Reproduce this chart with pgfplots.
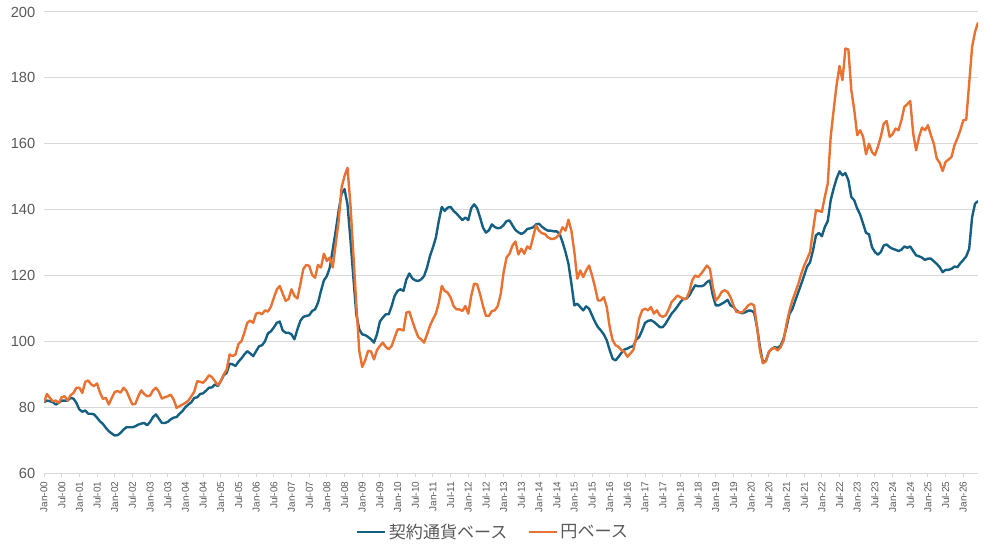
\documentclass[border=0pt]{standalone}
\usepackage{fontspec}
\setmainfont{Liberation Sans}
\newfontfamily\jp{Noto Sans CJK JP}
\usepackage{pgfplots}
\usepackage{pgfplotstable}
\pgfplotsset{compat=1.18}
\definecolor{cblue}{HTML}{156082}
\definecolor{corange}{HTML}{E97132}
\definecolor{txtgray}{HTML}{595959}
\definecolor{gridgray}{HTML}{D9D9D9}
\pgfplotstableread{
m a b
0 81.5 81.5
1 82 84
2 81.8 82.8
3 81.5 81.8
4 80.8 82
5 81.3 81.3
6 82 83
7 82 83.3
8 82 82
9 82.8 83.6
10 82.6 84.3
11 81.3 85.9
12 79.3 85.9
13 78.6 84.3
14 79 87.7
15 78 88.1
16 78 86.9
17 77.8 86.4
18 76.8 87.2
19 75.7 84.4
20 74.9 82.5
21 73.7 82.8
22 72.7 80.8
23 72 82.8
24 71.4 84.6
25 71.5 84.9
26 72.2 84.4
27 73.2 85.9
28 73.9 84.9
29 73.9 82.8
30 73.9 80.8
31 74.2 81
32 74.7 83.3
33 75 85.1
34 75.2 84
35 74.5 83.3
36 75.5 83.5
37 77 85.1
38 77.8 85.9
39 76.5 84.7
40 75.2 82.6
41 75.2 83
42 75.5 83.3
43 76.3 83.8
44 76.8 82.3
45 77 79.8
46 78 80.3
47 78.8 80.8
48 80 81.3
49 80.8 82
50 81.5 83.3
51 82.8 84.7
52 83 87.9
53 84 87.7
54 84.2 87.4
55 85 88.4
56 85.9 89.7
57 86 89.1
58 86.9 87.9
59 86.4 86.7
60 87.9 87.9
61 89.7 89.9
62 90.4 91.4
63 93.2 96
64 93 95.5
65 92.5 96
66 93.8 99.2
67 94.8 100
68 96 102.6
69 97 105.6
70 96.3 106.3
71 95.5 105.6
72 97 108.4
73 98.5 108.7
74 98.8 108.2
75 100 109.4
76 102.4 109
77 103 110.5
78 104.2 113.2
79 105.6 115.7
80 106 116.8
81 103.3 114.5
82 102.6 112.3
83 102.6 112.8
84 102.1 115.8
85 100.6 113.8
86 103.6 113
87 106.2 117.3
88 107.4 121.9
89 107.7 123.2
90 107.9 122.9
91 109.2 120.2
92 109.7 119.3
93 111.7 123.2
94 115.3 122.4
95 118.5 126.6
96 119.8 124.4
97 122.4 125.4
98 127.9 122.4
99 133.5 129.5
100 139.6 136.6
101 144.9 146.7
102 146.2 150.2
103 141.6 152.7
104 131 141.6
105 119.3 126.4
106 108.2 111.2
107 103.6 97.1
108 102.1 92.2
109 101.9 94.2
110 101.3 97.1
111 100.6 96.9
112 99.6 94.5
113 102.1 97.3
114 106 98.6
115 107.2 99.6
116 108.2 98.3
117 108.2 97.6
118 110.7 98.6
119 113.8 101.1
120 115.3 103.6
121 115.8 103.6
122 115.3 103.3
123 118.8 108.7
124 120.6 109
125 119.1 106.2
126 118.5 103.6
127 118.3 101.3
128 118.8 100.6
129 119.8 99.6
130 122.4 102.1
131 125.9 104.7
132 128.5 106.7
133 131.5 108.4
134 136.6 111.7
135 140.8 116.8
136 139.6 115.3
137 140.6 114.8
138 140.8 113.3
139 139.6 110.7
140 138.8 109.7
141 137.8 109.7
142 136.8 109.2
143 137.6 110.7
144 136.8 108.4
145 140.4 113.8
146 141.6 117.5
147 140.4 117.3
148 137.6 114.3
149 134.5 110.7
150 133 107.7
151 133.7 107.7
152 135.5 109.2
153 134.7 109.4
154 134.3 110.7
155 134.5 114.3
156 135.3 121
157 136.5 125.5
158 136.7 126.6
159 135.2 129.1
160 133.8 130.3
161 133.1 126.4
162 132.6 128.1
163 133.1 126.6
164 134.1 128.8
165 134.3 128.1
166 134.6 131.6
167 135.5 135.2
168 135.7 133.6
169 134.8 132.8
170 134.1 132.6
171 133.6 131.6
172 133.6 131.1
173 133.4 131.1
174 133.4 131.6
175 132.6 132.6
176 130.1 134.6
177 127.1 133.6
178 123.5 136.9
179 117.5 133.6
180 110.9 127.1
181 111.4 119
182 110.4 121.5
183 109.4 119.5
184 110.6 121.5
185 109.9 123
186 107.9 120
187 105.9 116.5
188 104.3 112.4
189 103.3 112.4
190 102.1 113.4
191 100.3 110.4
192 97.3 104.3
193 94.7 100.3
194 94.2 98.8
195 95.3 98.3
196 96.5 97.3
197 97.5 96.8
198 97.8 95.3
199 98.3 96.3
200 98.5 97.3
201 100.5 101.3
202 101.3 106.9
203 103.3 109.4
204 105.6 109.9
205 106.2 109.4
206 106.4 110.4
207 105.9 108.4
208 105.1 109.4
209 104.3 107.9
210 104.3 107.4
211 105.4 107.9
212 106.9 109.6
213 108.4 111.9
214 109.4 112.9
215 110.6 113.9
216 111.9 113.4
217 112.9 112.9
218 112.9 112.9
219 113.9 115
220 115.5 118.5
221 117 120
222 116.7 119.5
223 116.7 120.5
224 117 121.7
225 118 123
226 118.5 122
227 113.9 116.5
228 110.9 112.4
229 110.9 113.4
230 111.4 115
231 111.9 115.5
232 112.6 115
233 110.9 113.4
234 110.4 110.9
235 109.4 108.9
236 108.8 108.8
237 108.5 108.8
238 108.8 109.8
239 109.3 110.9
240 109.3 111.4
241 108.8 110.9
242 104.3 104.3
243 98.2 97.2
244 93.6 93.3
245 94.1 93.9
246 96.7 96.7
247 97.7 97.7
248 98.2 98
249 98 97.2
250 98.7 98.2
251 100.7 100.2
252 104.3 105.3
253 108.3 109.3
254 109.8 112.4
255 112.4 114.9
256 114.9 117.4
257 117.4 120.5
258 120 123
259 122.7 125
260 124 127.1
261 127.6 133.7
262 132.2 139.8
263 132.9 139.6
264 131.9 139.3
265 134.7 143.8
266 136.5 147.9
267 142.8 162.1
268 146.4 170.2
269 149.4 177.8
270 151.6 183.6
271 150.4 179.3
272 151.1 188.9
273 148.9 188.6
274 143.8 176.3
275 142.8 170.2
276 140.3 162.6
277 138.5 164.1
278 135.7 162.1
279 132.9 156.8
280 132.5 160
281 128.6 157.5
282 127.1 156.5
283 126.3 159
284 127.1 162.1
285 129.1 166.1
286 129.4 166.9
287 128.6 162.1
288 128.1 162.9
289 127.8 164.6
290 127.4 164.1
291 127.8 167.1
292 128.8 171.2
293 128.4 172
294 128.8 173
295 127.4 163.1
296 126.1 158
297 125.8 162.1
298 125.4 164.9
299 124.7 164.1
300 125.1 165.6
301 125.1 162.6
302 124.3 160
303 123.5 155.5
304 122.5 154.2
305 121 151.7
306 121.7 154.5
307 121.7 155.2
308 122 156
309 122.7 159.5
310 122.5 161.6
311 123.7 164.1
312 124.7 167.1
313 125.8 167.3
314 128.1 178.3
315 137.7 189.5
316 141.8 194
317 142.6 196.8
}\datatable
\begin{document}
\begin{tikzpicture}
\begin{axis}[
  at={(0,0)}, anchor=south west,
  scale only axis, width=700.5pt, height=345.75pt,
  xmin=0, xmax=317, ymin=60, ymax=200,
  axis x line*=bottom, axis y line*=left,
  y axis line style={draw=none},
  x axis line style={draw=gridgray, line width=0.75pt, -},
  ytick={60,80,...,200},
  ymajorgrids, grid style={draw=gridgray, line width=0.75pt},
  ytick style={draw=none},
  xtick={0,6,...,312},
  xticklabels={Jan-00,Jul-00,Jan-01,Jul-01,Jan-02,Jul-02,Jan-03,Jul-03,Jan-04,Jul-04,Jan-05,Jul-05,Jan-06,Jul-06,Jan-07,Jul-07,Jan-08,Jul-08,Jan-09,Jul-09,Jan-10,Jul-10,Jan-11,Jul-11,Jan-12,Jul-12,Jan-13,Jul-13,Jan-14,Jul-14,Jan-15,Jul-15,Jan-16,Jul-16,Jan-17,Jul-17,Jan-18,Jul-18,Jan-19,Jul-19,Jan-20,Jul-20,Jan-21,Jul-21,Jan-22,Jul-22,Jan-23,Jul-23,Jan-24,Jul-24,Jan-25,Jul-25,Jan-26},
  x tick label style={rotate=90, anchor=east, font=\fontsize{7.5}{8}\selectfont, text=txtgray},
  y tick label style={font=\fontsize{11}{12}\selectfont, text=txtgray},
  xtick style={draw=gridgray, line width=0.75pt},
  tick align=outside, major tick length=3pt,
  /pgf/number format/assume math mode=true,
  legend columns=2,
  legend style={at={(0.481,0)}, anchor=center, yshift=-44.25pt, draw=none, fill=none,
    font=\jp\fontsize{12.8}{14}\selectfont, text=txtgray,
    /tikz/every even column/.append style={column sep=13pt}},
  legend image code/.code={\draw[#1, line width=1.7pt] (0pt,0pt) -- (21pt,0pt);},
]
\addplot[cblue, line width=1.8pt, line join=round] table[x=m,y=a]{\datatable};
\addlegendentry{契約通貨ベース}
\addplot[corange, line width=1.8pt, line join=round] table[x=m,y=b]{\datatable};
\addlegendentry{円ベース}
\end{axis}
\pgfresetboundingbox
\path (-33pt,-57.75pt) rectangle (707.25pt,354.75pt);
\end{tikzpicture}
\end{document}
